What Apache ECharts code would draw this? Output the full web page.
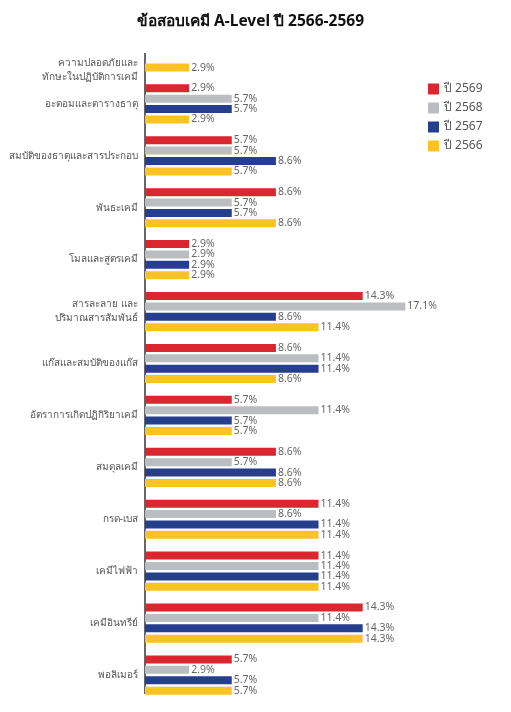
<!DOCTYPE html>
<html>
<head>
<meta charset="utf-8">
<script src="https://cdn.jsdelivr.net/npm/echarts@6/dist/echarts.min.js"></script>
<style>
  html, body { margin: 0; padding: 0; background: #fff; }
  #main { width: 511px; height: 712px; }
</style>
</head>
<body>
<div id="main"></div>
<script>
const topics = [
  'ความปลอดภัยและ\nทักษะในปฏิบัติการเคมี',
  'อะตอมและตารางธาตุ',
  'สมบัติของธาตุและสารประกอบ',
  'พันธะเคมี',
  'โมลและสูตรเคมี',
  'สารละลาย และ\nปริมาณสารสัมพันธ์',
  'แก๊สและสมบัติของแก๊ส',
  'อัตราการเกิดปฏิกิริยาเคมี',
  'สมดุลเคมี',
  'กรด-เบส',
  'เคมีไฟฟ้า',
  'เคมีอินทรีย์',
  'พอลิเมอร์'
]
// ร้อยละของข้อสอบแต่ละปี
const y2569 = ['-', 2.9, 5.7, 8.6, 2.9, 14.3, 8.6, 5.7, 8.6, 11.4, 11.4, 14.3, 5.7]
const y2568 = ['-', 5.7, 5.7, 5.7, 2.9, 17.1, 11.4, 11.4, 5.7, 8.6, 11.4, 11.4, 2.9]
const y2567 = ['-', 5.7, 8.6, 5.7, 2.9, 8.6, 11.4, 5.7, 8.6, 11.4, 11.4, 14.3, 5.7]
const y2566 = [2.9, 2.9, 5.7, 8.6, 2.9, 11.4, 8.6, 5.7, 8.6, 11.4, 11.4, 14.3, 5.7]

const seriesNames = ['ปี 2569', 'ปี 2568', 'ปี 2567', 'ปี 2566']
const seriesData = [y2569, y2568, y2567, y2566]
const colors = ['#D9262F', '#BCBDC0', '#253E8E', '#FDC322']

const font = '"Noto Sans", "DejaVu Sans", sans-serif'

let myChart = echarts.init(document.getElementById('main'))

myChart.setOption({
  animation: false,
  title: {
    text: 'ข้อสอบเคมี A-Level ปี 2566-2569',
    left: 132,
    top: 9,
    textStyle: { fontSize: 15.5, fontWeight: 'bold', color: '#111', fontFamily: font }
  },
  legend: {
    orient: 'vertical',
    left: 423,
    top: 78,
    icon: 'rect',
    itemWidth: 11,
    itemHeight: 11,
    itemGap: 7,
    textStyle: { fontSize: 12, color: '#555', fontFamily: font }
  },
  grid: { left: 145, right: 92, top: 26, bottom: 11, outerBoundsMode: 'none' },
  xAxis: {
    type: 'value',
    min: 0,
    max: 18,
    show: false
  },
  yAxis: {
    type: 'category',
    inverse: true,
    data: topics,
    axisLine: { show: false },
    axisTick: { show: false },
    axisLabel: {
      margin: 7,
      fontSize: 10,
      lineHeight: 14,
      color: '#555',
      fontFamily: font,
      // หัวข้อแรกมีแท่งเดียว ป้ายจึงเลื่อนลงให้ตรงแท่ง
      formatter: (value, index) => index === 0
        ? '{gap|}\n' + value.split('\n').map(s => '{t|' + s + '}').join('\n')
        : value,
      rich: {
        gap: { height: 36, lineHeight: 36 },
        t: { fontSize: 10, lineHeight: 14, color: '#555', fontFamily: font }
      }
    }
  },
  graphic: [{
    type: 'line',
    shape: { x1: 145, y1: 53, x2: 145, y2: 694 },
    style: { stroke: '#333', lineWidth: 1.5 }
  }],
  series: seriesNames.map((name, i) => ({
    name: name,
    type: 'bar',
    data: seriesData[i],
    barWidth: 8,
    barGap: '30%',
    itemStyle: { color: colors[i] },
    label: {
      show: true,
      position: 'right',
      distance: 2,
      formatter: '{c}%',
      fontSize: 10.5,
      color: '#666',
      fontFamily: font
    }
  }))
})
</script>
</body>
</html>
